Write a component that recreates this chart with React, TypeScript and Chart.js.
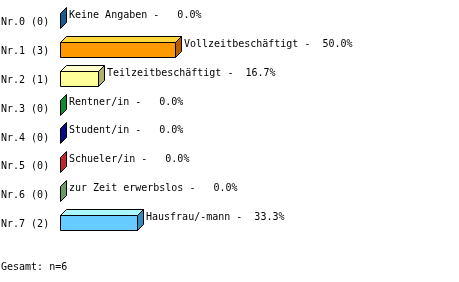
import React, { useEffect, useRef } from "react";
import { Chart, registerables } from "chart.js";

Chart.register(...registerables);

const tickLabels = ["Nr.0 (0)", "Nr.1 (3)", "Nr.2 (1)", "Nr.3 (0)", "Nr.4 (0)", "Nr.5 (0)", "Nr.6 (0)", "Nr.7 (2)"];
const answerLabels = [
  "Keine Angaben",
  "Vollzeitbeschäftigt",
  "Teilzeitbeschäftigt",
  "Rentner/in",
  "Student/in",
  "Schueler/in",
  "zur Zeit erwerbslos",
  "Hausfrau/-mann",
];
const percents = [0, 50.0, 16.7, 0, 0, 0, 0, 33.3];
const totalText = "Gesamt: n=6";

const frontColors = ["#2a7fbf", "#ff9900", "#ffff99", "#1aa83a", "#1010a8", "#e03030", "#80b880", "#66ccff"];
const topColors = ["#5aaae0", "#ffd63c", "#ffffcc", "#50d070", "#4040d0", "#ff6060", "#a8d8a8", "#aaf8ff"];
const sideColors = ["#1b5c8c", "#b85c00", "#b0b068", "#128a30", "#0a0a86", "#c0282c", "#6a9a68", "#2e8fbf"];

const FONT = "'DejaVu Sans Mono', monospace";

const bars3d = {
  id: "bars3d",
  afterDatasetsDraw(chart: any) {
    const ctx = chart.ctx;
    const meta = chart.getDatasetMeta(0);
    const dx = 6;
    const dy = 6;
    ctx.save();
    ctx.lineWidth = 1;
    ctx.strokeStyle = "#000000";
    ctx.font = `10px ${FONT}`;
    meta.data.forEach((el: any, i: number) => {
      const p = el.getProps(["x", "y", "base", "height"], true);
      const L = Math.round(p.base);
      const R = Math.round(p.x);
      const T = Math.round(p.y - p.height / 2);
      const B = Math.round(p.y + p.height / 2);
      const poly = (pts: number[][], fill: string) => {
        ctx.beginPath();
        ctx.moveTo(pts[0][0] + 0.5, pts[0][1] + 0.5);
        for (let k = 1; k < pts.length; k++) ctx.lineTo(pts[k][0] + 0.5, pts[k][1] + 0.5);
        ctx.closePath();
        ctx.fillStyle = fill;
        ctx.fill();
        ctx.stroke();
      };
      if (R > L) {
        poly([[L, T], [R, T], [R, B], [L, B]], frontColors[i]);
        poly([[L, T], [L + dx, T - dy], [R + dx, T - dy], [R, T]], topColors[i]);
      }
      poly([[R, T], [R + dx, T - dy], [R + dx, B - dy], [R, B]], sideColors[i]);
      const label = `${answerLabels[i]} - ${percents[i].toFixed(1).padStart(5, " ")}%`;
      ctx.fillStyle = "#000000";
      ctx.textAlign = "left";
      ctx.textBaseline = "middle";
      ctx.fillText(label, R + dx + 3, T + 2);
    });
    ctx.fillStyle = "#000000";
    ctx.textAlign = "left";
    ctx.textBaseline = "middle";
    ctx.fillText(totalText, 1, 267);
    ctx.restore();
  },
};

export default function App() {
  const ref = useRef<HTMLCanvasElement>(null);
  useEffect(() => {
    if (!ref.current) return;
    const chart = new Chart(ref.current, {
      type: "bar",
      data: {
        labels: tickLabels,
        datasets: [
          {
            data: percents,
            backgroundColor: "rgba(0,0,0,0)",
            borderWidth: 0,
            barThickness: 15,
          },
        ],
      },
      options: {
        indexAxis: "y",
        responsive: false,
        animation: false,
        devicePixelRatio: 1,
        layout: { padding: { left: 1, right: 169, top: 6, bottom: 45 } },
        plugins: {
          legend: { display: false },
          tooltip: { enabled: false },
        },
        scales: {
          x: { display: false, min: 0, max: 100 },
          y: {
            type: "category",
            grid: { display: false },
            border: { display: false },
            afterFit: (s: any) => {
              s.width = 59;
            },
            ticks: {
              crossAlign: "far",
              padding: 0,
              labelOffset: 2,
              color: "#000000",
              font: { family: FONT, size: 10 },
            },
          },
        },
      },
      plugins: [bars3d],
    });
    return () => chart.destroy();
  }, []);
  return (
    <div style={{ position: "absolute", left: 0, top: 0, width: 459, height: 282, background: "#ffffff" }}>
      <canvas ref={ref} width={459} height={282} />
    </div>
  );
}
